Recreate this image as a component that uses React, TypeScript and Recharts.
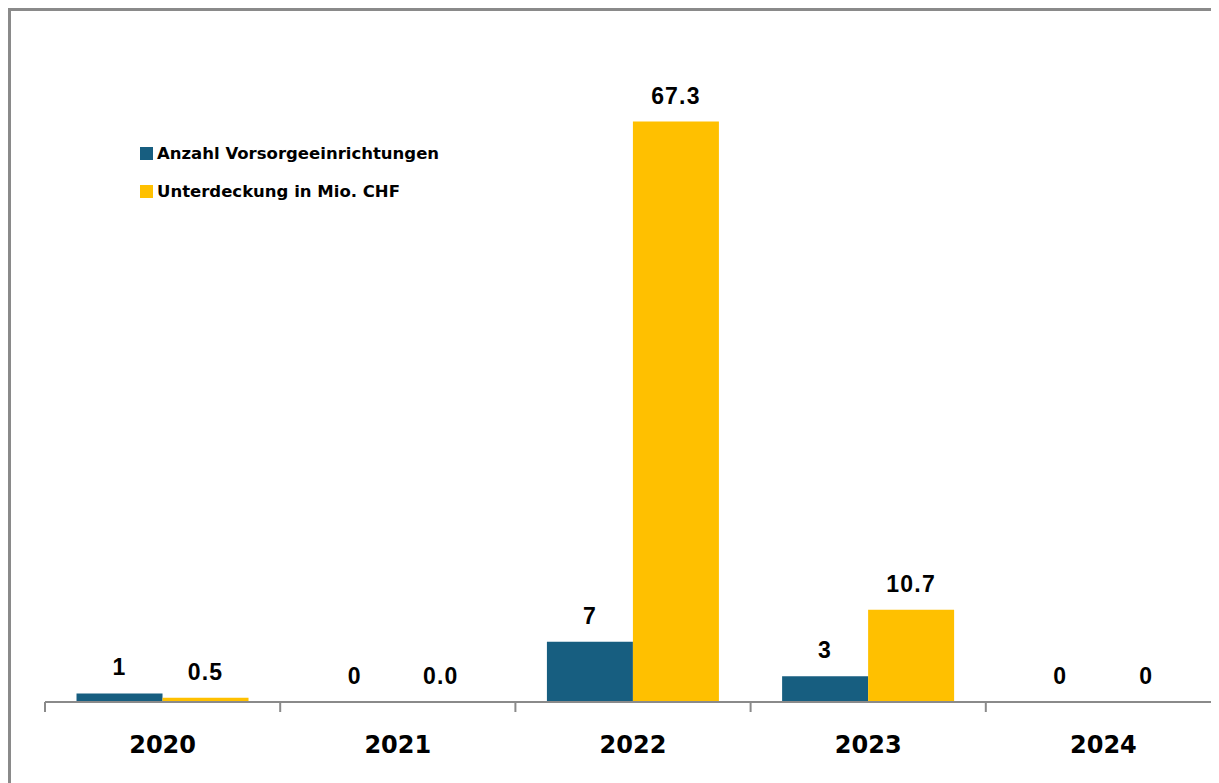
import React from "react";
import { BarChart, Bar, XAxis, YAxis, LabelList, Legend } from "recharts";

const years = ["2020", "2021", "2022", "2023", "2024"];
const countValues = [1, 0, 7, 3, 0];
const deficitValues = [0.5, 0, 67.3, 10.7, 0];
const countLabels = ["1", "0", "7", "3", "0"];
const deficitLabels = ["0.5", "0.0", "67.3", "10.7", "0"];

const seriesNames = ["Anzahl Vorsorgeeinrichtungen", "Unterdeckung in Mio. CHF"];
const BLUE = "#175e80";
const YELLOW = "#ffc000";
const GRAY = "#8a8a8a";
const TICK_MARGIN = 34;
const TICK_LEN = 10;

const data = years.map((y, i) => ({
  year: y,
  count: countValues[i],
  deficit: deficitValues[i],
  countLabel: countLabels[i],
  deficitLabel: deficitLabels[i],
}));

const LegendContent = () => (
  <div style={{ fontFamily: "'DejaVu Sans', sans-serif", fontWeight: 700, fontSize: 16.5, color: "#000" }}>
    {[BLUE, YELLOW].map((c, i) => (
      <div key={i} style={{ display: "flex", alignItems: "center", height: 38 }}>
        <span style={{ display: "inline-block", width: 13, height: 13, background: c, marginRight: 4 }} />
        <span>{seriesNames[i]}</span>
      </div>
    ))}
  </div>
);

const labelStyle = {
  fontFamily: "'Liberation Sans', Arial, sans-serif",
  fontWeight: 700,
  fontSize: 23,
  letterSpacing: 1.2,
  fill: "#000",
};

const tinyForZero = (value: any) => (value === 0 ? 0.01 : 0);

const YearTick = (props: any) => {
  const { x, y, payload, index, visibleTicksCount } = props;
  const half = payload && typeof payload.offset === "number" ? payload.offset : 0;
  const axisY = y - TICK_MARGIN;
  const isLast = index === (visibleTicksCount ?? 5) - 1;
  return (
    <g>
      <line x1={x - half} x2={x - half} y1={axisY} y2={axisY + TICK_LEN} stroke={GRAY} strokeWidth={2} />
      {isLast && (
        <line x1={x + half} x2={x + half} y1={axisY} y2={axisY + TICK_LEN} stroke={GRAY} strokeWidth={2} />
      )}
      <text
        x={x}
        y={y}
        dy="0.71em"
        textAnchor="middle"
        fontFamily="'DejaVu Sans', sans-serif"
        fontWeight={700}
        fontSize={24}
        fill="#000"
      >
        {payload.value}
      </text>
    </g>
  );
};

export default function App() {
  return (
    <div style={{ position: "relative", width: 1211, height: 775, overflow: "hidden" }}>
      <style>{"html,body{overflow:hidden}"}</style>
      <div
        style={{
          position: "absolute",
          left: 0,
          top: 0,
          width: 1300,
          height: 900,
          border: `3px solid ${GRAY}`,
          boxSizing: "border-box",
        }}
      />
      <div style={{ position: "absolute", left: 0, top: 0 }}>
        <BarChart
          width={1230}
          height={775}
          data={data}
          margin={{ top: 4, right: 17, left: 37, bottom: 21 }}
          barCategoryGap="13.4%"
          barGap={0}
        >
          <XAxis
            dataKey="year"
            height={60}
            axisLine={{ stroke: GRAY, strokeWidth: 2 }}
            tickLine={false}
            tickSize={0}
            tickMargin={TICK_MARGIN}
            interval={0}
            tick={<YearTick />}
          />
          <YAxis hide domain={[0, 80]} />
          <Legend
            layout="vertical"
            align="center"
            verticalAlign="middle"
            content={<LegendContent />}
            wrapperStyle={{ position: "absolute", left: 132, top: 126, width: 420, height: 80 }}
          />
          <Bar dataKey="count" name={seriesNames[0]} fill={BLUE} minPointSize={tinyForZero} isAnimationActive={false}>
            <LabelList dataKey="countLabel" position="top" offset={18} style={labelStyle} />
          </Bar>
          <Bar dataKey="deficit" name={seriesNames[1]} fill={YELLOW} minPointSize={tinyForZero} isAnimationActive={false}>
            <LabelList dataKey="deficitLabel" position="top" offset={18} style={labelStyle} />
          </Bar>
        </BarChart>
      </div>
    </div>
  );
}
